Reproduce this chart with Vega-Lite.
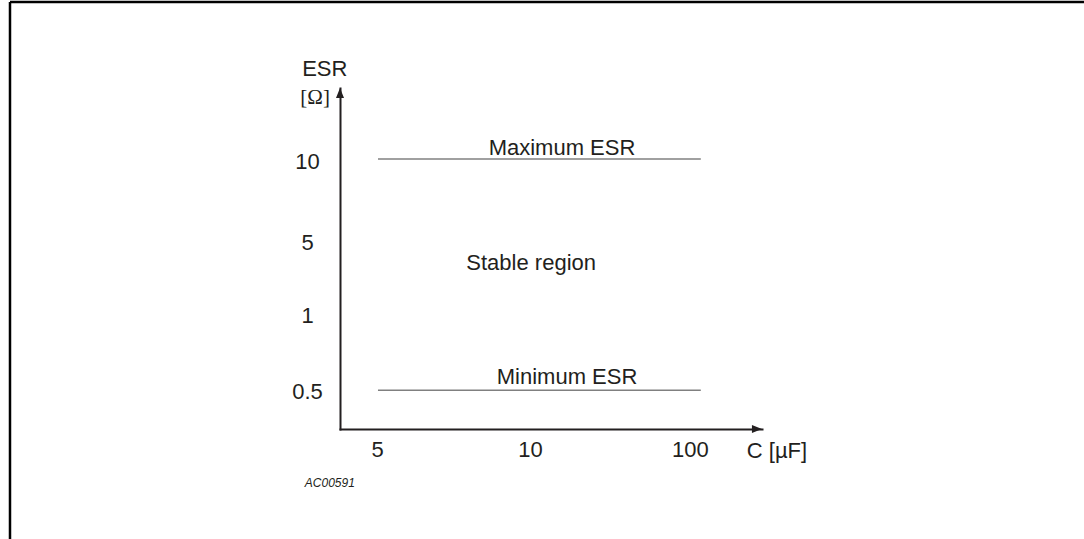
{
  "$schema": "https://vega.github.io/schema/vega-lite/v6.json",
  "width": 422,
  "height": 341,
  "autosize": {"type": "none"},
  "padding": {"left": 340, "top": 88, "right": 322, "bottom": 110},
  "background": "white",
  "config": {"view": {"stroke": null}, "font": "Liberation Sans"},
  "datasets": {
    "limits": [
      {"label": "Maximum ESR", "c_start": 9.0, "c_end": 85.5, "esr": 79.2, "label_c": 52.6, "label_esr": 82.4},
      {"label": "Minimum ESR", "c_start": 9.0, "c_end": 85.5, "esr": 11.4, "label_c": 53.8, "label_esr": 15.2}
    ],
    "region": [
      {"label": "Stable region", "c": 45.3, "esr": 48.7}
    ],
    "arrows": [
      {"dir": "up", "c": 0, "esr": 98.5},
      {"dir": "right", "c": 98.8, "esr": 0}
    ],
    "frame": [
      {"side": "left", "c1": -78.2, "c2": -78.2, "e1": -32.3, "e2": 125.2},
      {"side": "top", "c1": -78.2, "c2": 176.3, "e1": 125.2, "e2": 125.2}
    ],
    "ytitle": [
      {"text": "ESR", "c": -3.6, "esr": 105.6}
    ],
    "xtitle": [
      {"text": "C [µF]", "c": 96.4, "esr": -6.5}
    ],
    "unit": [
      {"text": "[Ω]", "c": -5.9, "esr": 97.1}
    ],
    "code": [
      {"text": "AC00591", "c": -2.4, "esr": -15.8}
    ]
  },
  "layer": [
    {
      "data": {"name": "limits"},
      "mark": {"type": "rule", "color": "#808080", "strokeWidth": 1.5},
      "encoding": {
        "x": {
          "field": "c_start", "type": "quantitative",
          "scale": {"domain": [0, 100], "nice": false, "zero": false},
          "axis": {
            "values": [8.77, 45, 82.9],
            "labelExpr": "datum.value < 20 ? '5' : datum.value < 60 ? '10' : '100'",
            "title": null, "grid": false, "ticks": false, "tickSize": 0,
            "domainColor": "#231f20", "domainWidth": 2, "domainCap": "square",
            "labelFontSize": 22, "labelColor": "#231f20", "labelPadding": 10,
            "labelFont": "Liberation Sans", "labelAlign": "center", "labelFlush": false
          }
        },
        "x2": {"field": "c_end"},
        "y": {
          "field": "esr", "type": "quantitative",
          "scale": {"domain": [0, 100], "nice": false, "zero": false},
          "axis": {
            "values": [10.9, 33.4, 54.8, 78.3],
            "labelExpr": "datum.value < 20 ? '0.5' : datum.value < 40 ? '1' : datum.value < 60 ? '5' : '10'",
            "title": null, "grid": false, "ticks": false, "tickSize": 0,
            "domainColor": "#231f20", "domainWidth": 2, "domainCap": "square",
            "labelFontSize": 22, "labelColor": "#231f20", "labelPadding": 33,
            "labelFont": "Liberation Sans", "labelAlign": "center", "labelBaseline": "middle", "labelFlush": false
          }
        }
      }
    },
    {
      "data": {"name": "limits"},
      "mark": {"type": "text", "fontSize": 22, "color": "#231f20", "align": "center", "baseline": "middle"},
      "encoding": {
        "x": {"field": "label_c", "type": "quantitative"},
        "y": {"field": "label_esr", "type": "quantitative"},
        "text": {"field": "label"}
      }
    },
    {
      "data": {"name": "region"},
      "mark": {"type": "text", "fontSize": 22, "color": "#231f20", "align": "center", "baseline": "middle"},
      "encoding": {
        "x": {"field": "c", "type": "quantitative"},
        "y": {"field": "esr", "type": "quantitative"},
        "text": {"field": "label"}
      }
    },
    {
      "data": {"name": "arrows"},
      "mark": {"type": "point", "filled": true, "color": "#231f20", "opacity": 1, "size": 100, "strokeWidth": 0},
      "encoding": {
        "x": {"field": "c", "type": "quantitative"},
        "y": {"field": "esr", "type": "quantitative"},
        "shape": {
          "field": "dir", "type": "nominal",
          "scale": {"domain": ["up", "right"], "range": ["M0,-1L0.8,1L-0.8,1Z", "M1,0L-1,0.8L-1,-0.8Z"]},
          "legend": null
        }
      }
    },
    {
      "data": {"name": "frame"},
      "mark": {"type": "rule", "color": "#000000", "strokeWidth": 2.5},
      "encoding": {
        "x": {"field": "c1", "type": "quantitative"},
        "x2": {"field": "c2"},
        "y": {"field": "e1", "type": "quantitative"},
        "y2": {"field": "e2"}
      }
    },
    {
      "data": {"name": "ytitle"},
      "mark": {"type": "text", "fontSize": 22, "color": "#231f20", "align": "center", "baseline": "middle"},
      "encoding": {
        "x": {"field": "c", "type": "quantitative"},
        "y": {"field": "esr", "type": "quantitative"},
        "text": {"field": "text"}
      }
    },
    {
      "data": {"name": "xtitle"},
      "mark": {"type": "text", "fontSize": 22, "color": "#231f20", "align": "left", "baseline": "middle"},
      "encoding": {
        "x": {"field": "c", "type": "quantitative"},
        "y": {"field": "esr", "type": "quantitative"},
        "text": {"field": "text"}
      }
    },
    {
      "data": {"name": "unit"},
      "mark": {"type": "text", "fontSize": 21, "font": "Liberation Serif", "color": "#231f20", "align": "center", "baseline": "middle"},
      "encoding": {
        "x": {"field": "c", "type": "quantitative"},
        "y": {"field": "esr", "type": "quantitative"},
        "text": {"field": "text"}
      }
    },
    {
      "data": {"name": "code"},
      "mark": {"type": "text", "fontSize": 12, "fontStyle": "italic", "color": "#231f20", "align": "center", "baseline": "middle"},
      "encoding": {
        "x": {"field": "c", "type": "quantitative"},
        "y": {"field": "esr", "type": "quantitative"},
        "text": {"field": "text"}
      }
    }
  ]
}
